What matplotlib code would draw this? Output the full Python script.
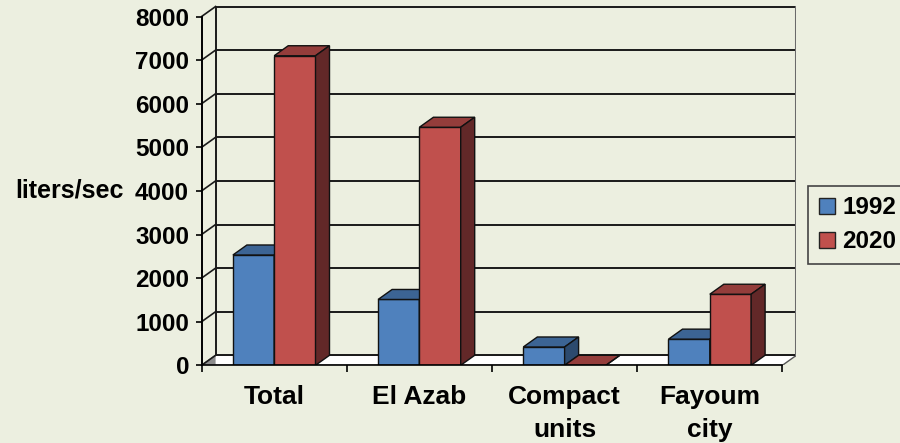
import matplotlib
matplotlib.use("Agg")
import matplotlib.pyplot as plt
from matplotlib.patches import Polygon, Patch

plt.rcParams["font.family"] = ["Liberation Sans", "DejaVu Sans"]
plt.rcParams["font.weight"] = "bold"

# data
categories = ["Total", "El Azab", "Compact\nunits", "Fayoum\ncity"]
years = ["1992", "2020"]
flow_1992 = [2530, 1510, 420, 600]
flow_2020 = [7100, 5460, 0, 1630]
yticks = list(range(0, 8001, 1000))

bg = "#ECEFE0"
face_cols = ["#4F81BD", "#C0504D"]
top_cols = ["#3C6494", "#943D3B"]
side_cols = ["#2C4A6E", "#622828"]

fig = plt.figure(figsize=(9, 4.43), dpi=100, facecolor=bg)
W, H = 900, 443
unit_x = 145.2          # px per category
unit_y = 43.6 / 1000    # px per liter/sec
x0_px, y0_px = 201.6, 365.3
dx = 14 / unit_x        # depth offset in data units
dy = 10 / unit_y
ytop = 8300
ax = fig.add_axes([x0_px / W, (H - y0_px) / H,
                   (4 + dx) * unit_x / W, ytop * unit_y / H])
ax.set_xlim(-0.5, 3.5 + dx)
ax.set_ylim(0, ytop)
ax.set_facecolor("none")

# floor
ax.add_patch(Polygon([(-0.5, 0), (3.5, 0), (3.5 + dx, dy), (-0.5 + dx, dy)],
                     closed=True, facecolor="white", edgecolor="#555555", lw=1, zorder=1))
ax.add_patch(Polygon([(-0.5, 0), (-0.5 + dx, dy), (-0.5 + dx, 0)],
                     closed=True, facecolor="#8C8C8C", edgecolor="none", zorder=1.1))

# back wall grid + side wall diagonals
for v in yticks:
    ax.plot([-0.5 + dx, 3.5 + dx], [v + dy, v + dy], color="#1a1a1a", lw=1.4, zorder=2)
    ax.plot([-0.5, -0.5 + dx], [v, v + dy], color="#1a1a1a", lw=1.2, zorder=2, clip_on=False)
ax.plot([-0.5 + dx, -0.5 + dx], [dy, 8000 + dy], color="#1a1a1a", lw=1.4, zorder=2)
ax.plot([3.5 + dx, 3.5 + dx], [dy, 8000 + dy], color="#6a6a6a", lw=2.2, zorder=2)

# 3d bars
bw = 41.3 / unit_x
z = 3
for i in range(len(categories)):
    for s, vals in enumerate([flow_1992, flow_2020]):
        left = i - bw + s * bw
        right = left + bw
        h = vals[i]
        ax.bar(left, h, width=bw, align="edge", color=face_cols[s],
               edgecolor="#111111", lw=1, zorder=z)
        ax.add_patch(Polygon([(left, h), (right, h), (right + dx, h + dy), (left + dx, h + dy)],
                             closed=True, facecolor=top_cols[s], edgecolor="#111111", lw=1, zorder=z + 0.1))
        ax.add_patch(Polygon([(right, 0), (right + dx, dy), (right + dx, h + dy), (right, h)],
                             closed=True, facecolor=side_cols[s], edgecolor="#111111", lw=1, zorder=z + 0.1))
        z += 1

# axes
for sp in ["top", "right"]:
    ax.spines[sp].set_visible(False)
ax.spines["left"].set_bounds(0, 8000)
ax.spines["bottom"].set_bounds(-0.5, 3.5)
ax.spines["left"].set_linewidth(1.4)
ax.spines["bottom"].set_linewidth(1.2)
ax.spines["left"].set_zorder(50)
ax.spines["bottom"].set_zorder(50)

ax.set_yticks(yticks)
ax.set_yticklabels([str(v) for v in yticks], fontsize=17.5, fontweight="bold")
ax.tick_params(axis="y", length=4, width=1.2, pad=5)

ax.set_xticks(range(len(categories)))
ax.set_xticklabels(categories, fontsize=19, fontweight="bold", linespacing=1.5)
ax.set_xticks([-0.5, 0.5, 1.5, 2.5, 3.5], minor=True)
ax.tick_params(axis="x", which="major", length=0, pad=14)
ax.tick_params(axis="x", which="minor", length=5, width=1.2)

fig.text(15 / W, 1 - 190 / H, "liters/sec", fontsize=18, fontweight="bold",
         ha="left", va="center")

handles = [Patch(facecolor=face_cols[k], edgecolor="#222222", lw=1) for k in range(2)]
leg = fig.legend(handles, years, loc="upper left", bbox_to_anchor=(808 / W, 1 - 185.5 / H),
                 fontsize=17.5, frameon=True, fancybox=False, edgecolor="#444444",
                 facecolor=bg, framealpha=1, handlelength=0.65, handleheight=0.65,
                 handletextpad=0.3, borderpad=0.45, labelspacing=0.45, borderaxespad=0)
leg.get_frame().set_linewidth(1.2)
for t in leg.get_texts():
    t.set_fontweight("bold")

fig.savefig("out.png", dpi=100, facecolor=bg)
